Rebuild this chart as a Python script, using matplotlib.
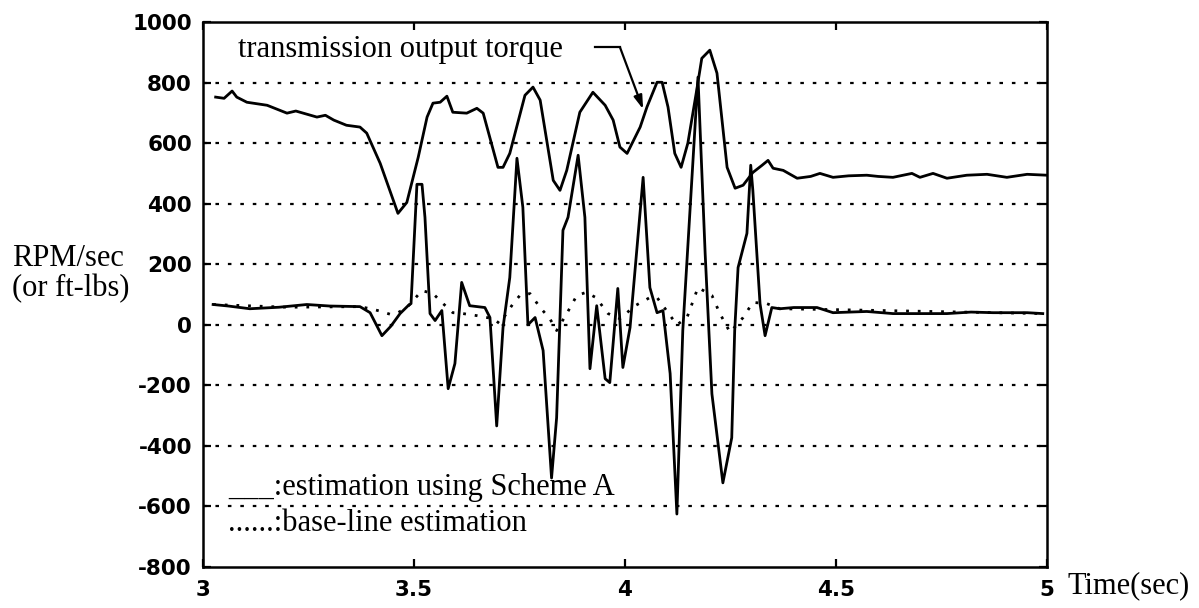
import matplotlib
matplotlib.use("Agg")
import matplotlib.pyplot as plt

# transmission output torque (ft-lbs)
torque_t = [3.03, 3.05, 3.069, 3.08, 3.104, 3.152, 3.199, 3.22, 3.27, 3.29,
            3.31, 3.34, 3.372, 3.388, 3.42, 3.462, 3.483, 3.51, 3.531, 3.545,
            3.562, 3.578, 3.592, 3.625, 3.649, 3.664, 3.699, 3.711, 3.727, 3.763,
            3.782, 3.799, 3.83, 3.846, 3.862, 3.893, 3.924, 3.953, 3.972, 3.988,
            4.005, 4.036, 4.052, 4.076, 4.088, 4.102, 4.118, 4.133, 4.149, 4.17,
            4.182, 4.201, 4.218, 4.242, 4.261, 4.28, 4.303, 4.325, 4.339, 4.351,
            4.375, 4.408, 4.44, 4.462, 4.493, 4.53, 4.573, 4.6, 4.635, 4.68,
            4.699, 4.73, 4.763, 4.81, 4.858, 4.905, 4.953, 5.0]
torque_v = [752, 748, 772, 752, 735, 725, 699, 706, 686, 692,
            676, 659, 653, 633, 533, 368, 404, 553, 686, 732,
            735, 755, 702, 699, 715, 699, 520, 520, 566, 758,
            785, 742, 477, 444, 510, 702, 768, 725, 676, 587,
            566, 653, 719, 801, 801, 719, 566, 520, 600, 775,
            880, 907, 831, 520, 451, 461, 503, 527, 543, 517,
            510, 484, 490, 500, 487, 492, 494, 490, 487, 500,
            487, 500, 484, 494, 497, 487, 497, 494]

# estimation using Scheme A (RPM/sec)
scheme_t = [3.024, 3.06, 3.111, 3.18, 3.246, 3.3, 3.372, 3.396, 3.424, 3.445,
            3.467, 3.486, 3.493, 3.507, 3.519, 3.526, 3.538, 3.55, 3.566, 3.581,
            3.597, 3.613, 3.632, 3.668, 3.68, 3.696, 3.711, 3.727, 3.744, 3.758,
            3.77, 3.787, 3.806, 3.826, 3.838, 3.853, 3.865, 3.889, 3.905, 3.917,
            3.933, 3.953, 3.964, 3.983, 3.995, 4.012, 4.043, 4.059, 4.076, 4.09,
            4.107, 4.123, 4.137, 4.173, 4.19, 4.206, 4.232, 4.253, 4.26, 4.268,
            4.289, 4.298, 4.303, 4.32, 4.332, 4.348, 4.367, 4.4, 4.455, 4.493,
            4.573, 4.635, 4.699, 4.763, 4.82, 4.872, 4.953, 4.99]
scheme_v = [67, 62, 53, 58, 67, 62, 60, 40, -36, -5,
            37, 63, 70, 464, 464, 355, 37, 14, 47, -211,
            -128, 140, 63, 57, 24, -334, -9, 156, 550, 388,
            0, 24, -85, -506, -307, 312, 355, 560, 355, -145,
            63, -178, -191, 120, -141, -9, 487, 123, 40, 47,
            -161, -625, -19, 818, 235, -228, -522, -373, -19, 189,
            302, 527, 444, 70, -36, 57, 53, 57, 57, 40,
            44, 37, 37, 37, 42, 40, 40, 37]

# base-line estimation (RPM/sec)
base_t = [3.024, 3.2, 3.372, 3.4, 3.42, 3.443, 3.462, 3.483, 3.519, 3.545,
          3.569, 3.592, 3.616, 3.65, 3.688, 3.703, 3.735, 3.751, 3.775, 3.799,
          3.822, 3.838, 3.862, 3.886, 3.908, 3.931, 3.96, 3.988, 4.024, 4.059,
          4.076, 4.102, 4.123, 4.147, 4.173, 4.206, 4.225, 4.249, 4.28, 4.303,
          4.336, 4.367, 4.5, 4.99]
base_v = [67, 58, 60, 52, 45, 35, 40, 57, 113, 103,
          70, 40, 37, 30, 20, 4, 70, 97, 103, 57,
          20, -19, 37, 97, 107, 90, 37, 20, 63, 90,
          90, 40, 0, 24, 123, 97, 37, -25, 24, 74,
          70, 53, 50, 37]

x_ticks = [3, 3.5, 4, 4.5, 5]
x_tick_labels = ["3", "3.5", "4", "4.5", "5"]
y_ticks = list(range(-800, 1001, 200))

SERIF = "Liberation Serif"
TICK_FONT = {"family": "DejaVu Sans", "weight": "bold", "size": 15.5}

fig = plt.figure(figsize=(11.99, 6.08), dpi=100)
ax = fig.add_axes([0.1693, 0.0674, 0.7039, 0.8964])

ax.set_xlim(3, 5)
ax.set_ylim(-800, 1000)

# horizontal dotted grid
for yv in y_ticks[1:-1]:
    ax.axhline(yv, color="black", lw=1.6, linestyle=(0, (1.6, 4.0)), zorder=1)

ax.plot(torque_t, torque_v, color="black", lw=2.0, zorder=3,
        solid_joinstyle="round")
ax.plot(scheme_t, scheme_v, color="black", lw=2.0, zorder=3,
        solid_joinstyle="round")
ax.plot(base_t, base_v, color="black", lw=2.0, linestyle=(0, (1.0, 3.2)), zorder=2)

ax.set_xticks(x_ticks)
ax.set_xticklabels(x_tick_labels, fontdict=TICK_FONT)
ax.set_yticks(y_ticks)
ax.set_yticklabels([str(v) for v in y_ticks], fontdict=TICK_FONT)
ax.tick_params(direction="in", length=6, width=1.6, top=True, right=True,
               colors="black")
ax.tick_params(axis="y", pad=8)
ax.tick_params(axis="x", pad=9)
for sp in ax.spines.values():
    sp.set_linewidth(1.8)
    sp.set_color("black")

# label and pointer for the torque curve
ax.text(3.083, 884, "transmission output torque", family=SERIF, fontsize=22,
        va="baseline", ha="left")
ax.plot([3.929, 3.988], [917, 917], color="black", lw=1.6, zorder=4)
ax.annotate("", xy=(4.043, 712), xytext=(3.988, 917),
            arrowprops=dict(arrowstyle="-|>,head_length=0.8,head_width=0.25",
                            color="black", lw=1.6, shrinkA=0, shrinkB=0),
            zorder=4)

# series key
ax.text(3.059, -562, "___:estimation using Scheme A", family=SERIF, fontsize=22,
        va="baseline", ha="left")
ax.text(3.059, -681, "......:base-line estimation", family=SERIF, fontsize=22,
        va="baseline", ha="left")

# axis titles
fig.text(0.010, 1 - 266 / 608, "RPM/sec", family=SERIF, fontsize=22,
         va="baseline", ha="left")
fig.text(0.010, 1 - 296 / 608, "(or ft-lbs)", family=SERIF, fontsize=22,
         va="baseline", ha="left")
fig.text(1067 / 1199, 1 - 593 / 608, "Time(sec)", family=SERIF, fontsize=22,
         va="baseline", ha="left")

fig.savefig("out.png", dpi=100, facecolor="white")
